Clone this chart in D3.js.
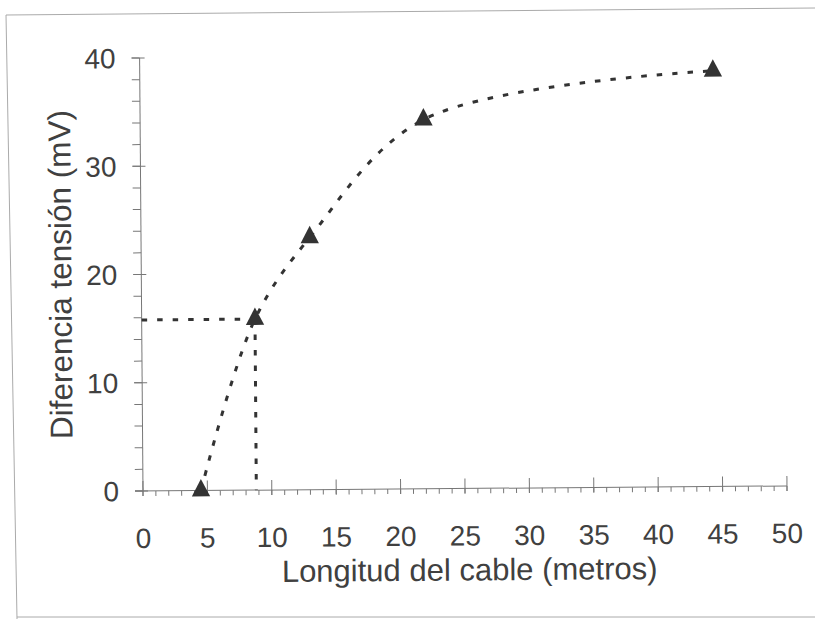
<!DOCTYPE html>
<html lang="es">
<head>
<meta charset="utf-8">
<title>Diferencia tensión vs longitud del cable</title>
<script src="https://cdn.jsdelivr.net/npm/d3@7"></script>
<style>
  body { margin: 0; background: #fff; }
  text { font-family: "Liberation Sans", Arial, sans-serif; fill: #404040; }
</style>
</head>
<body>
<svg width="815" height="619"></svg>
<script>
// data
const lengths  = [4.5, 8.8, 13.1, 22.0, 44.5];   // metros
const voltages = [0, 15.8, 23.3, 34.1, 38.4];    // mV
const guideX = 8.8;    // dashed reading lines
const guideY = 15.8;
const xTickLabels = [0, 5, 10, 15, 20, 25, 30, 35, 40, 45, 50];
const yTickLabels = [0, 10, 20, 30, 40];
const xMinor = d3.range(0, 51, 1);
const yMinor = d3.range(0, 41, 2);

const svg = d3.select('svg');

// frame of the scanned page
svg.append('path')
  .attr('d', 'M815,8 L6,15 L17,619 M17,617 L815,617')
  .attr('fill', 'none')
  .attr('stroke', '#aaa')
  .attr('stroke-width', 1);

var x = d3.scaleLinear().domain([0, 50]).range([143, 787]);
var y = d3.scaleLinear().domain([0, 40]).range([491, 58]);

// the scan is slightly tilted
var g = svg.append('g')
  .attr('transform', 'rotate(-0.45,' + x(0) + ',' + y(0) + ')');

var axisColor = '#777';

// x axis
g.append('line')
  .attr('x1', x(0) - 8).attr('x2', x(50))
  .attr('y1', y(0)).attr('y2', y(0))
  .attr('stroke', axisColor);
g.selectAll('.xminor').data(xMinor).enter().append('line')
  .attr('x1', d => x(d)).attr('x2', d => x(d))
  .attr('y1', y(0)).attr('y2', y(0) + 5)
  .attr('stroke', axisColor);
g.selectAll('.xmajor').data(xTickLabels).enter().append('line')
  .attr('x1', d => x(d)).attr('x2', d => x(d))
  .attr('y1', y(0) - 10).attr('y2', y(0) + 5)
  .attr('stroke', axisColor);
g.selectAll('.xlab').data(xTickLabels).enter().append('text')
  .attr('x', d => x(d)).attr('y', y(0) + 57)
  .attr('text-anchor', 'middle')
  .style('font-size', '28px')
  .text(d => d);

// y axis
g.append('line')
  .attr('x1', x(0)).attr('x2', x(0))
  .attr('y1', y(0)).attr('y2', y(40))
  .attr('stroke', axisColor);
g.selectAll('.yminor').data(yMinor).enter().append('line')
  .attr('x1', x(0) - 8).attr('x2', x(0))
  .attr('y1', d => y(d)).attr('y2', d => y(d))
  .attr('stroke', axisColor);
g.selectAll('.ymajor').data(yTickLabels).enter().append('line')
  .attr('x1', x(0) - 8).attr('x2', x(0) + 5)
  .attr('y1', d => y(d)).attr('y2', d => y(d))
  .attr('stroke', axisColor);
g.selectAll('.ylab').data(yTickLabels).enter().append('text')
  .attr('x', x(0) - 24).attr('y', d => y(d) + 10)
  .attr('text-anchor', 'end')
  .style('font-size', '28px')
  .text(d => d);

// axis titles
g.append('text')
  .attr('x', 469).attr('y', 583)
  .attr('text-anchor', 'middle')
  .style('font-size', '31px')
  .text('Longitud del cable (metros)');
g.append('text')
  .attr('transform', 'translate(73,274) rotate(-90)')
  .attr('text-anchor', 'middle')
  .style('font-size', '31.5px')
  .text('Diferencia tensión (mV)');

var dash = { stroke: '#333', width: 3, array: '5.5,10' };

// reading lines
g.append('line')
  .attr('x1', x(0)).attr('x2', x(guideX))
  .attr('y1', y(guideY)).attr('y2', y(guideY))
  .attr('stroke', dash.stroke).attr('stroke-width', dash.width)
  .attr('stroke-dasharray', dash.array);
g.append('line')
  .attr('x1', x(guideX)).attr('x2', x(guideX))
  .attr('y1', y(guideY)).attr('y2', y(0))
  .attr('stroke', dash.stroke).attr('stroke-width', dash.width)
  .attr('stroke-dasharray', dash.array);

// smoothed trend line
var pts = lengths.map((d, i) => [d, voltages[i]]);
var line = d3.line()
  .x(d => x(d[0])).y(d => y(d[1]))
  .curve(d3.curveCatmullRom.alpha(0.5));
g.append('path')
  .datum(pts)
  .attr('d', line)
  .attr('fill', 'none')
  .attr('stroke', dash.stroke).attr('stroke-width', dash.width)
  .attr('stroke-dasharray', dash.array);

// markers
g.selectAll('.pt').data(pts).enter().append('path')
  .attr('d', d3.symbol(d3.symbolTriangle, 145))
  .attr('transform', d => 'translate(' + x(d[0]) + ',' + y(d[1]) + ') scale(1,1.1)')
  .attr('fill', '#333');
</script>
</body>
</html>
